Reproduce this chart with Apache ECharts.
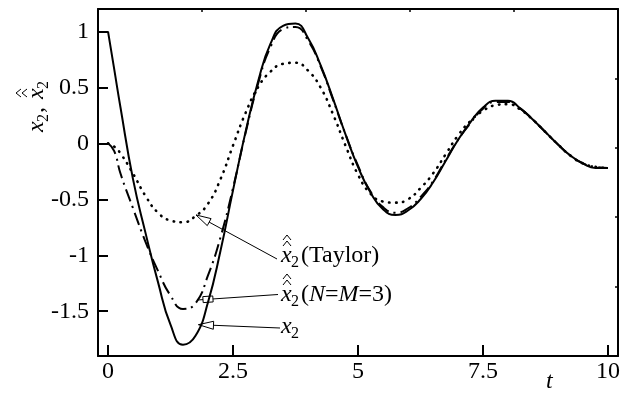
<!DOCTYPE html>
<html><head><meta charset="utf-8">
<script src="https://cdn.jsdelivr.net/npm/echarts@6/dist/echarts.min.js"></script>
<style>html,body{margin:0;padding:0;background:#fff}#c{width:626px;height:404px}</style>
</head><body><div id="c"></div>
<script>
// ---- data ----
const tValues = [0, 0.125, 0.25, 0.5, 0.75, 1, 1.25, 1.5, 1.75, 2, 2.25, 2.5, 2.75, 3, 3.25, 3.5, 3.75, 4, 4.25, 4.5, 4.75,
  5, 5.25, 5.5, 5.75, 6, 6.25, 6.5, 6.75, 7, 7.25, 7.5, 7.75, 8, 8.25, 8.5, 8.75, 9, 9.25, 9.5, 9.75, 10];
const x2Values = [1.00, 0.66, 0.32, -0.32, -0.80, -1.24, -1.62, -1.80, -1.72, -1.42, -0.96, -0.42, 0.10, 0.55, 0.89, 1.05, 1.07, 0.94, 0.70, 0.40, 0.08,
  -0.21, -0.44, -0.59, -0.64, -0.60, -0.50, -0.35, -0.16, 0.03, 0.19, 0.32, 0.38, 0.38, 0.31, 0.21, 0.10, -0.01, -0.11, -0.18, -0.22, -0.22];
const nm3Values = [0, -0.07, -0.27, -0.58, -0.88, -1.14, -1.36, -1.48, -1.43, -1.18, -0.84, -0.40, 0.09, 0.53, 0.86, 1.02, 1.04, 0.92, 0.69, 0.39, 0.08,
  -0.20, -0.43, -0.57, -0.62, -0.58, -0.48, -0.34, -0.15, 0.03, 0.18, 0.31, 0.37, 0.37, 0.31, 0.21, 0.10, -0.01, -0.11, -0.18, -0.21, -0.22];
const taylorValues = [0, -0.03, -0.09, -0.27, -0.47, -0.62, -0.69, -0.705, -0.65, -0.54, -0.32, -0.02, 0.27, 0.50, 0.64, 0.71, 0.72, 0.65, 0.50, 0.26, -0.02,
  -0.28, -0.45, -0.52, -0.53, -0.50, -0.40, -0.27, -0.10, 0.07, 0.20, 0.29, 0.34, 0.35, 0.30, 0.21, 0.10, -0.01, -0.11, -0.18, -0.21, -0.22];
const xTickValues = [0, 2.5, 5, 7.5, 10];
const yTickValues = [-1.5, -1, -0.5, 0, 0.5, 1];
const taylorText = '(Taylor)';
const nmText = ['(', 'N', '=', 'M', '=3)'];
const xAxisTitle = 't';

// ---- chart ----
const FONT = '"Liberation Serif","Times New Roman",serif';
const chart = echarts.init(document.getElementById('c'), null, {renderer: 'canvas'});
const pairs = ys => tValues.map((t, i) => [t, ys[i]]);
const black = '#000';
const axisLine = {show: true, onZero: false, lineStyle: {color: black, width: 2}};

chart.setOption({
  animation: false,
  backgroundColor: '#fff',
  textStyle: {fontFamily: FONT},
  grid: {left: 98, right: 8, top: 9, bottom: 48},
  xAxis: [{
    type: 'value', min: -0.2, max: 10.2,
    axisLine: axisLine,
    axisTick: {show: true, inside: true, length: 11, customValues: xTickValues, lineStyle: {color: black, width: 2}},
    axisLabel: {customValues: xTickValues, color: black, fontFamily: FONT, fontSize: 24, margin: 4, formatter: v => String(v)},
    splitLine: {show: false}
  }, {
    type: 'value', position: 'top', min: 0, max: 5, interval: 1,
    axisLine: axisLine,
    axisTick: {show: true, inside: true, length: 3, lineStyle: {color: black, width: 1.5}},
    axisLabel: {show: false}, splitLine: {show: false}
  }],
  yAxis: [{
    type: 'value', min: -1.9, max: 1.2,
    axisLine: axisLine,
    axisTick: {show: true, inside: true, length: 10, customValues: yTickValues, lineStyle: {color: black, width: 2}},
    axisLabel: {customValues: yTickValues, color: black, fontFamily: FONT, fontSize: 24, margin: 9, formatter: v => String(v)},
    splitLine: {show: false}
  }, {
    type: 'value', position: 'right', min: 0, max: 5, interval: 1,
    axisLine: axisLine,
    axisTick: {show: true, inside: true, length: 3, lineStyle: {color: black, width: 1.5}},
    axisLabel: {show: false}, splitLine: {show: false}
  }],
  series: [
    {type: 'line', name: 'x2', data: pairs(x2Values), showSymbol: false, smooth: true,
      lineStyle: {color: black, width: 2}},
    {type: 'line', name: 'NM3', data: pairs(nm3Values), showSymbol: false, smooth: true,
      lineStyle: {color: black, width: 2, type: [13, 5, 2, 5]}},
    {type: 'line', name: 'Taylor', data: pairs(taylorValues), showSymbol: false, smooth: true,
      lineStyle: {color: black, width: 2.6, type: [0.5, 6.5], cap: 'round'}}
  ]
});

// ---- annotations ----
const toPx = p => chart.convertToPixel({xAxisIndex: 0, yAxisIndex: 0}, p);
const txt = (x, y, text, size, italic) => ({type: 'text', x: x, y: y, silent: true,
  style: {text: text, fill: black, font: (italic ? 'italic ' : '') + size + 'px ' + FONT, verticalAlign: 'middle', align: 'left'}});
const hat = (x, y) => ({type: 'polyline', silent: true, shape: {points: [[x, y], [x + 4, y - 5], [x + 8, y]]},
  style: {stroke: black, lineWidth: 1, fill: null}});

function symbol(hats, xOff) {
  const c = [txt(xOff, 0, 'x', 24, true), txt(xOff + 10, 7, '2', 16, false)];
  if (hats) { c.push(hat(xOff + 2, -10)); c.push(hat(xOff + 2, -16)); }
  return c;
}

function arrow(tip, end, head) {
  const p = toPx(tip);
  const dx = end[0] - p[0], dy = end[1] - p[1];
  const L = Math.hypot(dx, dy), ux = dx / L, uy = dy / L, nx = -uy, ny = ux;
  const els = [{type: 'line', silent: true, shape: {x1: p[0], y1: p[1], x2: end[0], y2: end[1]}, style: {stroke: black, lineWidth: 1}}];
  let pts;
  if (head === 'box') {
    const a = 6, b = 16, w = 3;
    pts = [[p[0] + ux * a + nx * w, p[1] + uy * a + ny * w], [p[0] + ux * b + nx * w, p[1] + uy * b + ny * w],
      [p[0] + ux * b - nx * w, p[1] + uy * b - ny * w], [p[0] + ux * a - nx * w, p[1] + uy * a - ny * w]];
  } else {
    const l = 15, w = 4;
    pts = [[p[0], p[1]], [p[0] + ux * l + nx * w, p[1] + uy * l + ny * w], [p[0] + ux * l - nx * w, p[1] + uy * l - ny * w]];
  }
  els.push({type: 'polygon', silent: true, shape: {points: pts}, style: {fill: '#fff', stroke: black, lineWidth: 1}});
  return els;
}

const richStyles = {
  r: {fontFamily: FONT, fontSize: 24, fill: black, color: black},
  i: {fontFamily: FONT, fontSize: 24, fontStyle: 'italic', fill: black, color: black}
};

const g = [];
arrow([1.76, -0.64], [277, 259], 'tri').forEach(e => g.push(e));
arrow([1.78, -1.40], [278, 294.5], 'box').forEach(e => g.push(e));
arrow([1.81, -1.62], [280, 328], 'tri').forEach(e => g.push(e));

g.push({type: 'group', x: 281, y: 256, children: symbol(true, 0).concat([txt(20, 0, taylorText, 24, false)])});
g.push({type: 'group', x: 281, y: 295, children: symbol(true, 0).concat([{
  type: 'text', x: 20, y: 0, silent: true,
  style: {text: '{r|' + nmText[0] + '}{i|' + nmText[1] + '}{r|' + nmText[2] + '}{i|' + nmText[3] + '}{r|' + nmText[4] + '}',
    rich: richStyles, verticalAlign: 'middle', align: 'left', fill: black}
}])});
g.push({type: 'group', x: 281, y: 327, children: symbol(false, 0)});

// y-axis title (rotated)
g.push({type: 'group', x: 37, y: 132, rotation: Math.PI / 2,
  children: symbol(false, 0).concat([txt(19, 0, ',', 24, false)]).concat(symbol(true, 33))});
// x-axis title
g.push(txt(546, 382, xAxisTitle, 24, true));

chart.setOption({graphic: {elements: g}});
</script></body></html>
